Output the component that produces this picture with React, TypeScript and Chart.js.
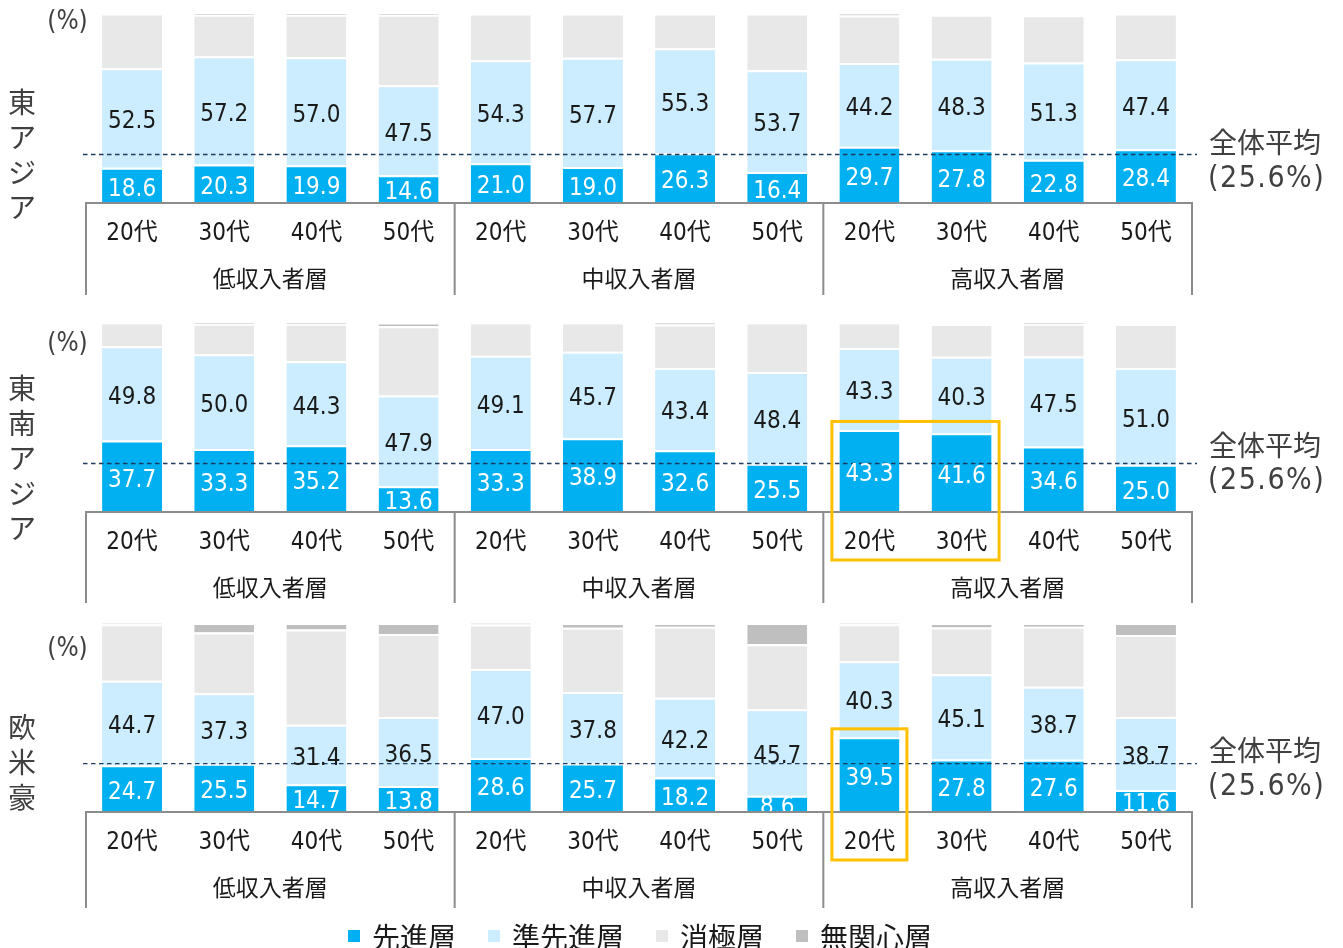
import React, { useEffect, useRef } from 'react';
import { Chart, registerables } from 'chart.js';

Chart.register(...registerables);

// ---------- data ----------
const ageLabels = ['20代', '30代', '40代', '50代'];
const incomeGroups = ['低収入者層', '中収入者層', '高収入者層'];
const categories = incomeGroups.flatMap((g) => ageLabels.map((a) => `${g} ${a}`));
const seriesNames = ['先進層', '準先進層', '消極層', '無関心層'];
const seriesColors = ['#00B0F0', '#CCECFF', '#E8E8E8', '#BFBFBF'];
const overallAverage = 25.6;

// 東アジア
const eastAsiaAdvanced = [18.6, 20.3, 19.9, 14.6, 21.0, 19.0, 26.3, 16.4, 29.7, 27.8, 22.8, 28.4];
const eastAsiaSemi = [52.5, 57.2, 57.0, 47.5, 54.3, 57.7, 55.3, 53.7, 44.2, 48.3, 51.3, 47.4];
const eastAsiaPassive = [28.9, 21.9, 22.5, 37.3, 24.7, 23.3, 18.4, 29.9, 25.0, 23.3, 25.0, 24.2];
const eastAsiaIndifferent = [0, 0.6, 0.6, 0.6, 0, 0, 0, 0, 1.1, 0, 0, 0];

// 東南アジア
const seAsiaAdvanced = [37.7, 33.3, 35.2, 13.6, 33.3, 38.9, 32.6, 25.5, 43.3, 41.6, 34.6, 25.0];
const seAsiaSemi = [49.8, 50.0, 44.3, 47.9, 49.1, 45.7, 43.4, 48.4, 43.3, 40.3, 47.5, 51.0];
const seAsiaPassive = [12.5, 16.1, 19.9, 36.5, 17.6, 15.4, 23.0, 26.1, 13.4, 17.3, 17.3, 23.2];
const seAsiaIndifferent = [0, 0.6, 0.6, 2.0, 0, 0, 1.0, 0, 0, 0, 0.6, 0];
const seAsiaHighlight = [8, 9];

// 欧米豪
const westAdvanced = [24.7, 25.5, 14.7, 13.8, 28.6, 25.7, 18.2, 8.6, 39.5, 27.8, 27.6, 11.6];
const westSemi = [44.7, 37.3, 31.4, 36.5, 47.0, 37.8, 42.2, 45.7, 40.3, 45.1, 38.7, 38.7];
const westPassive = [29.9, 32.2, 50.4, 43.9, 23.6, 34.0, 37.6, 34.5, 19.5, 24.7, 31.7, 43.3];
const westIndifferent = [0.7, 5.0, 3.5, 5.8, 0.8, 2.5, 2.0, 11.2, 0.7, 2.4, 2.0, 6.4];
const westHighlight = [8];

// ---------- layout / style ----------
const W = 1343;
const AREA_LEFT = 86;
const AREA_RIGHT = 1192;
const NUM_FONT = '"DejaVu Sans Condensed", "DejaVu Sans", "Noto Sans CJK JP", sans-serif';
const CJK_FONT = '"Noto Sans CJK JP", sans-serif';

type PanelCfg = {
  title: string;
  series: number[][];
  highlight: number[];
  canvasTop: number;
  height: number;
  areaTop: number;
  baseline: number;
  pctY: number;
  titleY: number;
  lineDrop: number;
  avgY: [number, number];
};

const panels: PanelCfg[] = [
  {
    title: '東アジア',
    series: [eastAsiaAdvanced, eastAsiaSemi, eastAsiaPassive, eastAsiaIndifferent],
    highlight: [],
    canvasTop: 0,
    height: 305,
    areaTop: 13.5,
    baseline: 203,
    pctY: 21.5,
    titleY: 101,
    lineDrop: 92,
    avgY: [141, 176],
  },
  {
    title: '東南アジア',
    series: [seAsiaAdvanced, seAsiaSemi, seAsiaPassive, seAsiaIndifferent],
    highlight: seAsiaHighlight,
    canvasTop: 305,
    height: 300,
    areaTop: 322.5,
    baseline: 512,
    pctY: 343,
    titleY: 387,
    lineDrop: 91,
    avgY: [444, 478],
  },
  {
    title: '欧米豪',
    series: [westAdvanced, westSemi, westPassive, westIndifferent],
    highlight: westHighlight,
    canvasTop: 605,
    height: 343,
    areaTop: 623,
    baseline: 812,
    pctY: 648,
    titleY: 726,
    lineDrop: 96,
    avgY: [749, 784],
  },
];

function makeOverlay(cfg: PanelCfg) {
  const off = cfg.canvasTop;
  return {
    id: 'overlay',
    afterDatasetsDraw(chart: any) {
      const ctx: CanvasRenderingContext2D = chart.ctx;
      const { left, right, top, bottom } = chart.chartArea;
      const yScale = chart.scales.y;
      // average dashed line
      const ay = yScale.getPixelForValue(overallAverage);
      ctx.save();
      ctx.strokeStyle = '#1F3A5F';
      ctx.lineWidth = 1.3;
      ctx.setLineDash([4.5, 3.5]);
      ctx.beginPath();
      ctx.moveTo(left - 3, ay);
      ctx.lineTo(right + 5, ay);
      ctx.stroke();
      ctx.restore();
      // data labels for 先進層 / 準先進層
      ctx.save();
      ctx.beginPath();
      ctx.rect(left, top - 2, right - left, bottom - top + 1);
      ctx.clip();
      ctx.font = `24px ${NUM_FONT}`;
      ctx.textAlign = 'center';
      ctx.textBaseline = 'middle';
      [0, 1].forEach((di) => {
        const meta = chart.getDatasetMeta(di);
        const vals = chart.data.datasets[di].data as number[];
        meta.data.forEach((el: any, i: number) => {
          const cy = (el.y + el.base) / 2 + 4;
          ctx.fillStyle = di === 0 ? '#FFFFFF' : '#1A1A1A';
          ctx.fillText(vals[i].toFixed(1), el.x, cy);
        });
      });
      ctx.restore();
    },
    afterDraw(chart: any) {
      const ctx: CanvasRenderingContext2D = chart.ctx;
      const { left, right, bottom } = chart.chartArea;
      const xScale = chart.scales.x;
      const yScale = chart.scales.y;
      const catW = (right - left) / categories.length;
      ctx.save();
      // axis line + group separators
      ctx.strokeStyle = '#8C8C8C';
      ctx.lineWidth = 2;
      ctx.beginPath();
      ctx.moveTo(left - 1, bottom);
      ctx.lineTo(right + 1, bottom);
      for (let g = 0; g <= incomeGroups.length; g++) {
        const gx = left + g * ageLabels.length * catW;
        ctx.moveTo(gx, bottom);
        ctx.lineTo(gx, bottom + cfg.lineDrop);
      }
      ctx.stroke();
      // age labels
      ctx.fillStyle = '#1A1A1A';
      ctx.textAlign = 'center';
      ctx.textBaseline = 'middle';
      ctx.font = `24px ${NUM_FONT}`;
      categories.forEach((_, i) => {
        ctx.fillText(ageLabels[i % ageLabels.length], xScale.getPixelForValue(i), bottom + 31);
      });
      // group labels
      ctx.font = `23px ${CJK_FONT}`;
      incomeGroups.forEach((g, gi) => {
        const cx = left + (gi * ageLabels.length + ageLabels.length / 2) * catW;
        ctx.fillText(g, cx, bottom + 75);
      });
      // (%)
      ctx.fillStyle = '#404040';
      ctx.font = `26px ${NUM_FONT}`;
      ctx.fillText('(%)', 67.5, cfg.pctY - off + 1);
      // side title (vertical)
      ctx.font = `28px ${CJK_FONT}`;
      Array.from(cfg.title).forEach((ch, k) => {
        ctx.fillText(ch, 22, cfg.titleY - off + k * 35 + 1);
      });
      // average text
      ctx.textAlign = 'left';
      ctx.font = `28px ${CJK_FONT}`;
      ctx.fillText('全体平均', 1209, cfg.avgY[0] - off + 1);
      ctx.font = `30px ${NUM_FONT}`;
      (ctx as any).letterSpacing = '1.5px';
      ctx.fillText(`(${overallAverage.toFixed(1)}%)`, 1208, cfg.avgY[1] - off + 3);
      (ctx as any).letterSpacing = '0px';
      // highlight boxes
      if (cfg.highlight.length) {
        const first = cfg.highlight[0];
        const last = cfg.highlight[cfg.highlight.length - 1];
        const maxV = Math.max(...cfg.highlight.map((i) => cfg.series[0][i]));
        const bw = catW * 0.651;
        const x0 = xScale.getPixelForValue(first) - bw / 2 - 7.5;
        const x1 = xScale.getPixelForValue(last) + bw / 2 + 7.5;
        const y0 = yScale.getPixelForValue(maxV) - 8.5;
        const y1 = bottom + 48;
        ctx.strokeStyle = '#FFC000';
        ctx.lineWidth = 3;
        ctx.strokeRect(x0, y0, x1 - x0, y1 - y0);
      }
      ctx.restore();
    },
  };
}

function Panel({ cfg }: { cfg: PanelCfg }) {
  const ref = useRef<HTMLCanvasElement>(null);
  useEffect(() => {
    const canvas = ref.current;
    if (!canvas) return;
    const chart = new Chart(canvas, {
      type: 'bar',
      data: {
        labels: categories,
        datasets: seriesNames.map((name, si) => ({
          label: name,
          data: cfg.series[si],
          backgroundColor: seriesColors[si],
          borderColor: '#FFFFFF',
          borderWidth: { top: 2, right: 0, bottom: 0, left: 0 },
          borderSkipped: false,
          barPercentage: 0.651,
          categoryPercentage: 1,
        })),
      },
      options: {
        animation: false,
        responsive: false,
        devicePixelRatio: 1,
        layout: {
          padding: {
            left: AREA_LEFT,
            right: W - AREA_RIGHT,
            top: cfg.areaTop - cfg.canvasTop,
            bottom: cfg.canvasTop + cfg.height - cfg.baseline,
          },
        },
        scales: {
          x: { type: 'category', stacked: true, display: false },
          y: { stacked: true, min: 0, max: 100, display: false },
        },
        plugins: {
          legend: { display: false },
          tooltip: { enabled: false },
        },
      },
      plugins: [makeOverlay(cfg)],
    } as any);
    return () => chart.destroy();
  }, [cfg]);
  return (
    <canvas
      ref={ref}
      width={W}
      height={cfg.height}
      style={{ position: 'absolute', left: 0, top: cfg.canvasTop, width: W, height: cfg.height }}
    />
  );
}

function Legend() {
  return (
    <div
      style={{
        position: 'absolute',
        left: 348,
        top: 916,
        height: 40,
        display: 'flex',
        alignItems: 'center',
        gap: 32,
        fontFamily: CJK_FONT,
        fontSize: 28,
        lineHeight: '40px',
        color: '#1A1A1A',
        whiteSpace: 'nowrap',
      }}
    >
      {seriesNames.map((name, i) => (
        <div key={name} style={{ display: 'flex', alignItems: 'center' }}>
          <span
            style={{ display: 'inline-block', width: 12, height: 12, background: seriesColors[i], marginRight: 12 }}
          />
          <span>{name}</span>
        </div>
      ))}
    </div>
  );
}

export default function App() {
  return (
    <div style={{ position: 'absolute', left: 0, top: 0, width: W, height: 948, overflow: 'hidden', background: '#FFFFFF' }}>
      {panels.map((p) => (
        <Panel key={p.title} cfg={p} />
      ))}
      <Legend />
    </div>
  );
}
